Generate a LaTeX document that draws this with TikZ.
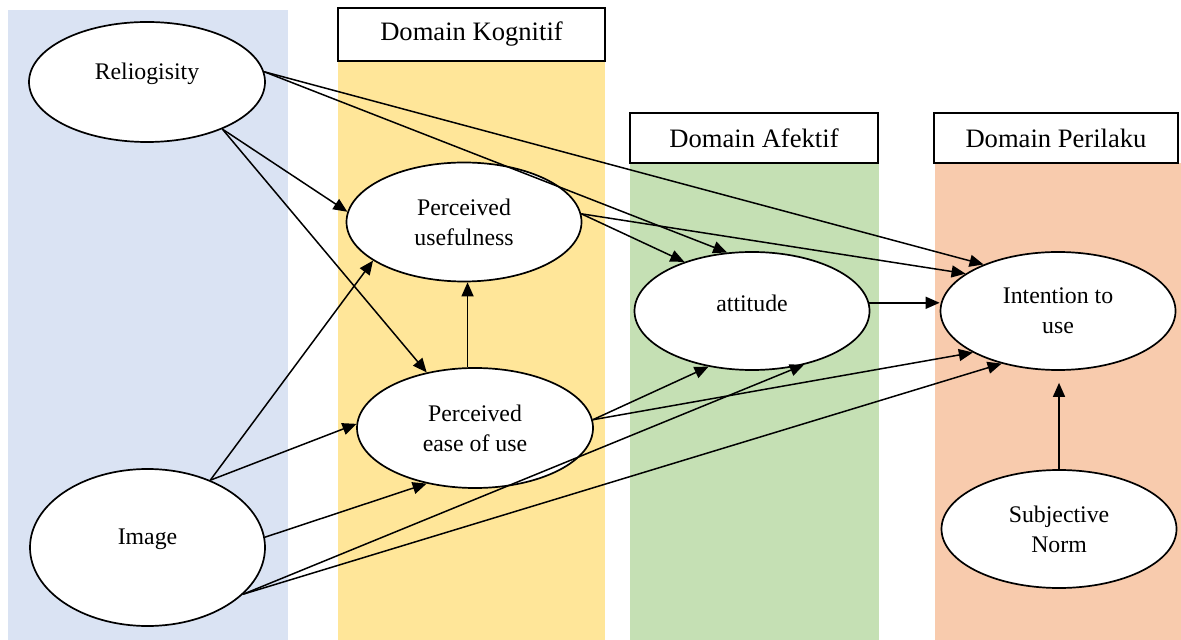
\documentclass[tikz,border=0pt]{standalone}
\usepackage{fontspec}
\setmainfont{Liberation Serif}
\usetikzlibrary{arrows.meta,shapes.geometric}
\definecolor{cblue}{RGB}{218,227,243}
\definecolor{cyellow}{RGB}{255,230,153}
\definecolor{cgreen}{RGB}{197,224,180}
\definecolor{corange}{RGB}{248,203,173}
\begin{document}
\begin{tikzpicture}[x=0.5pt,y=-0.5pt,
  ell/.style={ellipse, draw, fill=white, line width=0.85pt, inner sep=0pt,
              font=\fontsize{11.9}{15}\selectfont, align=center},
  lbl/.style={font=\fontsize{11.9}{15}\selectfont, yshift=4pt},
  hdr/.style={draw, fill=white, line width=0.85pt, inner sep=0pt,
              font=\fontsize{13.3}{16}\selectfont},
  arr/.style={-{Triangle[length=7pt,width=6pt]}, line width=0.75pt}]
\useasboundingbox (0,0) rectangle (1181,640);
% columns
\fill[cblue]   (8,10)   rectangle (288,640);
\fill[cyellow] (338,61) rectangle (605,640);
\fill[cgreen]  (630,163) rectangle (879,640);
\fill[corange] (935,163) rectangle (1181,640);
% headers
\node[hdr, minimum width=133.5pt, minimum height=26.5pt] (hK) at (471.5,34.5) {Domain Kognitif};
\node[hdr, minimum width=124pt, minimum height=25pt] (hA) at (754,138) {Domain Afektif};
\node[hdr, minimum width=122pt, minimum height=25pt] (hP) at (1056,138) {Domain Perilaku};
% ellipses
\node[ell, minimum width=118pt, minimum height=60pt,
      label={[lbl]center:Reliogisity}] (R) at (147,82) {};
\node[ell, minimum width=117.5pt, minimum height=59.5pt] (PU) at (464,222) {Perceived\\usefulness};
\node[ell, minimum width=118pt, minimum height=60pt] (PEOU) at (475,428) {Perceived\\ease of use};
\node[ell, minimum width=117.5pt, minimum height=59pt,
      label={[lbl]center:attitude}] (A) at (752,311) {};
\node[ell, minimum width=117.5pt, minimum height=59pt] (I) at (1058,311) {Intention to\\use};
\node[ell, minimum width=117.5pt, minimum height=59pt] (SN) at (1059,529) {Subjective\\Norm};
\node[ell, minimum width=117.5pt, minimum height=78.5pt,
      label={[lbl]center:Image}] (Img) at (147.5,547.5) {};
% connectors
\draw[arr] (R.-32) -- (PU.175);
\draw[arr] (R.-32) -- (PEOU.131);
\draw[arr] (R.5) -- (A.113);
\draw[arr] (R.5) -- (I.148);
\draw[arr] (PU.4) -- (A.144);
\draw[arr] (PU.4) -- (I.158);
\draw[arr] (PEOU.97) -- (PEOU.97 |- PU.south);
\draw[arr] (PEOU.4) -- (A.-128);
\draw[arr] (PEOU.4) -- (I.-154);
\draw[arr] (A.4) -- (A.4 -| I.west);
\draw[arr, shorten >=6pt] (SN.north) -- (SN.north |- I.south);
\draw[arr] (Img.47) -- (PU.-157);
\draw[arr] (Img.47) -- (PEOU.178);
\draw[arr] (Img.5) -- (PEOU.-131);
\draw[arr] (Img.-26) -- (A.-46);
\draw[arr] (Img.-26) -- (I.-137);
\end{tikzpicture}
\end{document}
